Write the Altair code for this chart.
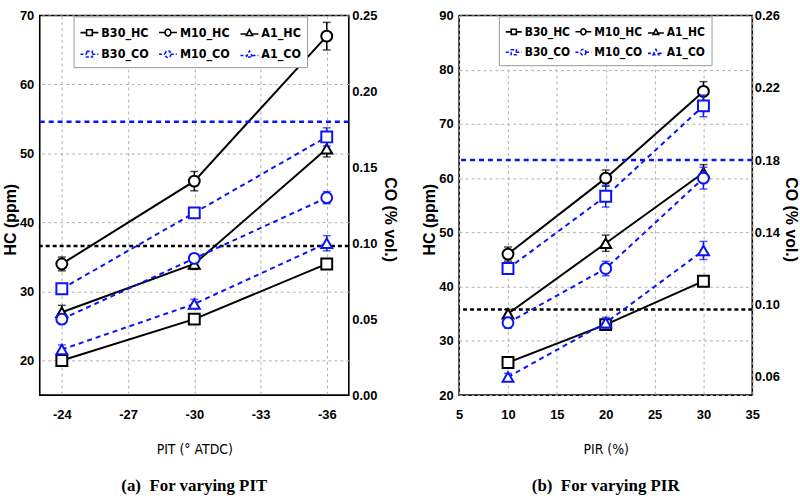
import altair as alt
import pandas as pd

# ---------------- data: panel (a) varying PIT ----------------
pit = [-24, -30, -36]
a_b30_hc = [20, 26, 34]
a_m10_hc = [34, 46, 67]
a_a1_hc = [27, 34, 50.7]
a_b30_co = [0.07, 0.12, 0.17]
a_m10_co = [0.05, 0.09, 0.13]
a_a1_co = [0.03, 0.06, 0.10]
a_b30_hc_err = [0.5, 0.5, 0.6]
a_m10_hc_err = [1.0, 1.4, 2.0]
a_a1_hc_err = [1.0, 0.8, 1.2]
a_b30_co_err = [0.003, 0.003, 0.006]
a_m10_co_err = [0.003, 0.003, 0.004]
a_a1_co_err = [0.003, 0.003, 0.005]
a_hc_limit = 36.6
a_co_limit = 0.18

# ---------------- data: panel (b) varying PIR ----------------
pir = [10, 20, 30]
b_b30_hc = [26, 33, 41]
b_m10_hc = [46, 60, 76]
b_a1_hc = [35, 48, 61]
b_b30_co = [0.12, 0.16, 0.21]
b_m10_co = [0.09, 0.12, 0.17]
b_a1_co = [0.06, 0.09, 0.13]
b_b30_hc_err = [0.5, 0.6, 0.8]
b_m10_hc_err = [1.3, 1.5, 1.8]
b_a1_hc_err = [0.8, 1.5, 1.5]
b_b30_co_err = [0.003, 0.006, 0.006]
b_m10_co_err = [0.003, 0.004, 0.006]
b_a1_co_err = [0.002, 0.003, 0.005]
b_hc_limit = 35.8
b_co_limit = 0.18

series_names = ["B30_HC", "M10_HC", "A1_HC", "B30_CO", "M10_CO", "A1_CO"]
marker_shapes = ["square", "circle", "triangle-up"]

BLUE = "#0a14f5"
NARROW = "Liberation Sans Narrow, Arial Narrow, DejaVu Sans Condensed, sans-serif"
SANS = "Liberation Sans, Arial, sans-serif"
SERIF = "Liberation Serif, Times New Roman, serif"

# legend symbol paths: line - marker - line
SQ = "M-1,0H-0.32M0.32,0H1M-0.32,-0.32H0.32V0.32H-0.32Z"
CI = "M-1,0H-0.32M0.32,0H1M0.32,0A0.32,0.38 0 1,1 -0.32,0A0.32,0.38 0 1,1 0.32,0Z"
TR = "M-1,0.15H-0.35M0.35,0.15H1M-0.35,0.32L0,-0.34L0.35,0.32Z"


def long_df(xs, vals, errs, name):
    return pd.DataFrame({
        "x": xs, "v": vals, "lo": [v - e for v, e in zip(vals, errs)],
        "hi": [v + e for v, e in zip(vals, errs)], "series": name})


def panel(xs, hc_vals, hc_errs, co_vals, co_errs, hc_lim, co_lim,
          x_scale, x_ticks, x_title, hc_scale, hc_ticks, co_scale, co_ticks,
          width, height, caption, leg_x, leg_y, col_pad, leg_font, leg_sym,
          co_lpad, co_tpad):
    x_enc = alt.X("x:Q", scale=x_scale, title=x_title,
                  axis=alt.Axis(values=x_ticks, labelExpr="'' + datum.value",
                                grid=True, gridDash=[3, 3], gridColor="#b0b0b0",
                                labelFlush=False, labelOverlap=False,
                                ticks=False, domain=False,
                                labelPadding=14, titlePadding=21,
                                titleFont=NARROW, titleFontWeight="normal",
                                titleFontSize=14))
    title_y = 205
    hc_axis = alt.Axis(values=hc_ticks, grid=True, gridDash=[3, 3],
                       gridColor="#b0b0b0", ticks=False, domain=False,
                       labelFlush=False, labelOverlap=False, labelPadding=6,
                       titlePadding=1, titleFont=SANS, titleY=title_y,
                       titleFontWeight="bold", titleFontSize=16)
    co_axis = alt.Axis(values=co_ticks, format=".2f", grid=False, orient="right",
                       ticks=False, domain=False, labelFlush=False,
                       labelOverlap=False, labelPadding=co_lpad,
                       titlePadding=co_tpad, titleFont=SANS, titleY=title_y,
                       titleFontWeight="bold", titleFontSize=16)

    def group(vals, errs, names, color, dash, scale, axis, ytitle):
        layers = []
        frames = [long_df(xs, v, e, n) for v, e, n in zip(vals, errs, names)]
        df = pd.concat(frames, ignore_index=True)
        line_kw = dict(color=color, strokeWidth=2)
        if dash:
            line_kw["strokeDash"] = dash
        layers.append(alt.Chart(df).mark_line(**line_kw).encode(
            x=x_enc, y=alt.Y("v:Q", scale=scale, axis=axis, title=ytitle),
            detail="series:N"))
        layers.append(alt.Chart(df).mark_errorbar(
            ticks=True, size=8, thickness=1.5, color=color).encode(
            x=alt.X("x:Q", title=x_title),
            y=alt.Y("lo:Q", title=ytitle), y2="hi:Q"))
        for f, shp in zip(frames, marker_shapes):
            layers.append(alt.Chart(f).mark_point(
                shape=shp, filled=False, fill="white", fillOpacity=1, opacity=1,
                color=color, strokeWidth=2, size=120).encode(
                x=alt.X("x:Q", title=x_title), y=alt.Y("v:Q", title=ytitle)))
        return layers

    hc_layers = group(hc_vals, hc_errs, series_names[:3], "black", None,
                      hc_scale, hc_axis, "HC (ppm)")
    co_layers = group(co_vals, co_errs, series_names[3:], BLUE, [5, 4],
                      co_scale, co_axis, "CO (% vol.)")

    hc_ref = alt.Chart(pd.DataFrame({"lim": [hc_lim]})).mark_rule(
        color="black", strokeDash=[4, 3], strokeWidth=2.5).encode(
        y=alt.Y("lim:Q", title="HC (ppm)"))
    co_ref = alt.Chart(pd.DataFrame({"lim": [co_lim]})).mark_rule(
        color=BLUE, strokeDash=[5, 4], strokeWidth=2.5).encode(
        y=alt.Y("lim:Q", title="CO (% vol.)"))

    leg = alt.Legend(orient="none", legendX=leg_x, legendY=leg_y, columns=3,
                     direction="horizontal",
                     title=None, fillColor="white", strokeColor="#9a9a9a",
                     padding=6, rowPadding=5, columnPadding=col_pad,
                     symbolSize=leg_sym, symbolStrokeWidth=1.6, symbolOpacity=1,
                     labelFont=NARROW, labelFontSize=leg_font,
                     labelFontWeight="bold", labelOffset=2, labelColor="black")
    leg_df = pd.DataFrame({"series": series_names})
    legend_layer = alt.Chart(leg_df).mark_point(opacity=0, filled=False).encode(
        color=alt.Color("series:N", legend=leg,
                        scale=alt.Scale(domain=series_names,
                                        range=["black"] * 3 + [BLUE] * 3)),
        shape=alt.Shape("series:N", legend=leg,
                        scale=alt.Scale(domain=series_names,
                                        range=[SQ, CI, TR, SQ, CI, TR])),
        strokeDash=alt.StrokeDash("series:N", legend=leg,
                                  scale=alt.Scale(domain=series_names,
                                                  range=[[1, 0]] * 3 + [[3, 2]] * 3)))

    hc_layer = alt.layer(*hc_layers, hc_ref)
    co_layer = alt.layer(*co_layers, co_ref, legend_layer)
    return alt.layer(hc_layer, co_layer).resolve_scale(y="independent").properties(
        width=width, height=height,
        title=alt.TitleParams(caption, orient="bottom", font=SERIF,
                              fontWeight="bold", fontSize=17, offset=22,
                              anchor="middle"))


panel_a = panel(pit, [a_b30_hc, a_m10_hc, a_a1_hc],
                [a_b30_hc_err, a_m10_hc_err, a_a1_hc_err],
                [a_b30_co, a_m10_co, a_a1_co],
                [a_b30_co_err, a_m10_co_err, a_a1_co_err],
                a_hc_limit, a_co_limit,
                alt.Scale(domain=[-37, -23], reverse=True, nice=False),
                [-24, -27, -30, -33, -36], "PIT (\u00b0 ATDC)",
                alt.Scale(domain=[15, 70], nice=False), [20, 30, 40, 50, 60, 70],
                alt.Scale(domain=[0, 0.25], nice=False),
                [0.0, 0.05, 0.10, 0.15, 0.20, 0.25],
                311, 382, "(a)\u00a0\u00a0For varying PIT", 34, 1, 6, 12.5, 324,
                3, 5)

panel_b = panel(pir, [b_b30_hc, b_m10_hc, b_a1_hc],
                [b_b30_hc_err, b_m10_hc_err, b_a1_hc_err],
                [b_b30_co, b_m10_co, b_a1_co],
                [b_b30_co_err, b_m10_co_err, b_a1_co_err],
                b_hc_limit, b_co_limit,
                alt.Scale(domain=[5, 35], nice=False),
                [5, 10, 15, 20, 25, 30, 35], "PIR (%)",
                alt.Scale(domain=[20, 90], nice=False),
                [20, 30, 40, 50, 60, 70, 80, 90],
                alt.Scale(domain=[0.05, 0.26], nice=False),
                [0.06, 0.10, 0.14, 0.18, 0.22, 0.26],
                295, 382, "(b)\u00a0\u00a0For varying PIR", 40, 1, 1, 12, 256,
                2, 3)

chart = alt.hconcat(panel_a, panel_b, spacing=21).resolve_scale(
    color="independent", shape="independent", strokeDash="independent"
).resolve_legend(
    color="independent", shape="independent", strokeDash="independent"
).properties(
    padding={"left": 1, "top": 7, "right": 0, "bottom": 0},
    background="white"
).configure_view(
    stroke="black", strokeWidth=1.6
).configure_axis(
    labelFont=SANS, labelFontWeight="bold", labelFontSize=13,
    labelColor="black", titleColor="black"
)

chart.save("out.html", embed_options={"renderer": "svg", "actions": False})
